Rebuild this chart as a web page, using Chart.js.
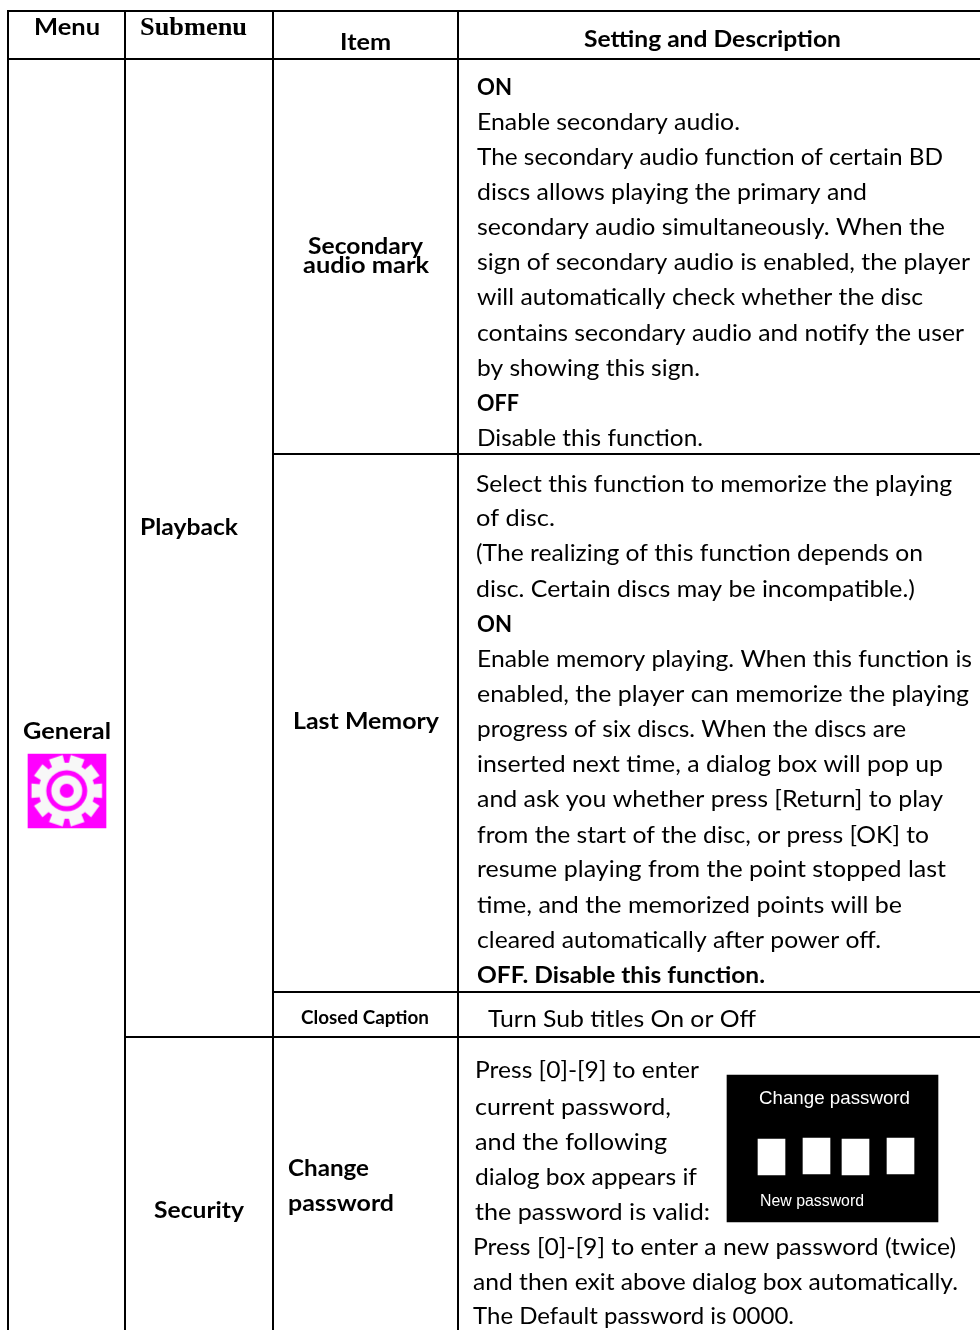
<!DOCTYPE html>
<html>
<head>
<meta charset="utf-8">
<title>Menu table</title>
<script src="https://cdn.jsdelivr.net/npm/chart.js@4/dist/chart.umd.min.js"></script>
<style>
  html, body { margin: 0; padding: 0; background: #fff; }
  canvas { display: block; }
</style>
</head>
<body>
<canvas id="menuTable" width="980" height="1330"></canvas>
<script>
// table rules, in page units: [x1, y1, x2, y2]
const tableRules = [
  [8, 11, 980, 11], [8, 59, 980, 59],
  [273, 454, 980, 454], [273, 992, 980, 992], [125, 1037, 980, 1037],
  [8, 10, 8, 1330], [125, 10, 125, 1330], [273, 10, 273, 1330], [458, 10, 458, 1330]
];

// [left, right, baseline, text]
const headerCells = [
  [34, 100, 35, 'Menu'],
  [340, 391, 50, 'Item'],
  [584, 841, 47, 'Setting and Description']
];
const submenuHeader = [140, 247, 35, 'Submenu'];

const boldCells = [
  [308, 423, 254, 'Secondary'],
  [303, 429, 273, 'audio mark'],
  [293, 439, 729, 'Last Memory'],
  [23, 111, 739, 'General'],
  [140, 238, 535, 'Playback'],
  [154, 244, 1218, 'Security'],
  [288, 369, 1176, 'Change'],
  [288, 394, 1211, 'password'],
  [477, 512, 95, 'ON'],
  [477, 519, 411, 'OFF'],
  [477, 512, 632, 'ON'],
  [477, 765, 983, 'OFF. Disable this function.']
];
const smallBoldCells = [[301, 429, 1024, 'Closed Caption']];

const settingLines = [
  [477, 740, 130, 'Enable secondary audio.'],
  [477, 943, 165, 'The secondary audio function of certain BD'],
  [477, 867, 200, 'discs allows playing the primary and'],
  [477, 945, 235, 'secondary audio simultaneously. When the'],
  [477, 970, 270, 'sign of secondary audio is enabled, the player'],
  [477, 923, 305, 'will automatically check whether the disc'],
  [477, 964, 341, 'contains secondary audio and notify the user'],
  [477, 700, 376, 'by showing this sign.'],
  [477, 703, 446, 'Disable this function.'],
  [476, 952, 492, 'Select this function to memorize the playing'],
  [476, 555, 526, 'of disc.'],
  [476, 923, 561, '(The realizing of this function depends on'],
  [476, 915, 597, 'disc. Certain discs may be incompatible.)'],
  [477, 972, 667, 'Enable memory playing. When this function is'],
  [477, 969, 702, 'enabled, the player can memorize the playing'],
  [477, 906, 737, 'progress of six discs. When the discs are'],
  [477, 943, 772, 'inserted next time, a dialog box will pop up'],
  [477, 943, 807, 'and ask you whether press [Return] to play'],
  [477, 929, 843, 'from the start of the disc, or press [OK] to'],
  [477, 946, 877, 'resume playing from the point stopped last'],
  [477, 902, 913, 'time, and the memorized points will be'],
  [477, 881, 948, 'cleared automatically after power off.'],
  [488, 756, 1027, 'Turn Sub titles On or Off'],
  [475, 699, 1078, 'Press [0]-[9] to enter'],
  [475, 671, 1115, 'current password,'],
  [475, 667, 1150, 'and the following'],
  [475, 697, 1185, 'dialog box appears if'],
  [475, 710, 1220, 'the password is valid:'],
  [473, 956, 1255, 'Press [0]-[9] to enter a new password (twice)'],
  [473, 958, 1290, 'and then exit above dialog box automatically.'],
  [473, 794, 1324, 'The Default password is 0000.']
];

// dialog picture
const dialogBox = { x: 832.5, y: [1075, 1222] };
const dialogSlots = [
  { x: 771.5, y: [1139, 1175] },
  { x: 816.5, y: [1138, 1174] },
  { x: 855.5, y: [1139, 1175] },
  { x: 900.5, y: [1138, 1174] }
];
const dialogLabels = [
  [759, 910, 1104, 'Change password'],
  [760, 864, 1206, 'New password']
];

// gear icon
const iconBox = { x: 67, y: [754, 828] };
const iconCentre = { x: 66.7, y: 790.7 };

// gear drawn once on a small canvas, used as point image
function makeGear() {
  const c = document.createElement('canvas');
  c.width = c.height = 78;
  const g = c.getContext('2d');
  const teeth = 10;
  const step = 2 * Math.PI / teeth;
  g.translate(39, 39);
  g.fillStyle = '#f7f7f7';
  g.beginPath();
  for (let i = 0; i < teeth; i++) {
    const a = (i + 0.5) * step - Math.PI / 2;
    const pts = [[a - step * 0.5, 28], [a - step * 0.38, 28], [a - step * 0.32, 36], [a + step * 0.32, 36], [a + step * 0.38, 28]];
    pts.forEach(p => g.lineTo(Math.cos(p[0]) * p[1], Math.sin(p[0]) * p[1]));
  }
  g.closePath();
  g.fill();
  [[20.5, '#ff00ff'], [15.5, '#f7f7f7'], [7, '#ff00ff']].forEach(r => {
    g.fillStyle = r[1];
    g.beginPath();
    g.arc(0, 0, r[0], 0, 2 * Math.PI);
    g.fill();
  });
  return c;
}

function box(data, color, width) {
  return { type: 'bar', data: data, backgroundColor: color, barThickness: width, grouped: false, order: 5 };
}

// text goes through the scales, squeezed to the width
const tableText = {
  id: 'tableText',
  afterDatasetsDraw(chart) {
    const { ctx, scales } = chart;
    function put(cell, font, color) {
      const left = scales.x.getPixelForValue(cell[0]);
      const right = scales.x.getPixelForValue(cell[1]);
      const base = scales.y.getPixelForValue(cell[2]);
      ctx.save();
      ctx.font = font;
      ctx.fillStyle = color;
      ctx.textBaseline = 'alphabetic';
      ctx.translate(left, base);
      ctx.scale((right - left) / ctx.measureText(cell[3]).width, 1);
      ctx.fillText(cell[3], 0, 0);
      ctx.restore();
    }
    headerCells.forEach(c => put(c, 'bold 23.5px Lato', '#000'));
    put(submenuHeader, 'bold 25px "Liberation Serif"', '#000');
    boldCells.forEach(c => put(c, 'bold 23.5px Lato', '#000'));
    smallBoldCells.forEach(c => put(c, 'bold 18.5px Lato', '#000'));
    settingLines.forEach(c => put(c, '23.5px Lato', '#000'));
    dialogLabels.forEach((c, i) => put(c, (i ? 16 : 18.5) + 'px "Liberation Sans"', '#fff'));
  }
};

const ruleSets = tableRules.map(r => ({
  type: 'line',
  data: [{ x: r[0], y: r[1] }, { x: r[2], y: r[3] }],
  borderColor: '#000',
  borderWidth: 2,
  pointRadius: 0,
  order: 1
}));

const ctx = document.getElementById('menuTable').getContext('2d');
new Chart(ctx, {
  type: 'bar',
  plugins: [tableText],
  data: {
    datasets: [
      ...ruleSets,
      {
        type: 'scatter',
        data: [iconCentre],
        pointStyle: makeGear(),
        order: 2
      },
      box(dialogSlots, '#fff', 27),
      box([dialogBox], '#000', 211),
      box([iconBox], '#ff00ff', 78)
    ]
  },
  options: {
    responsive: false,
    animation: false,
    events: [],
    layout: { padding: 0, autoPadding: false },
    plugins: { legend: { display: false }, tooltip: { enabled: false } },
    scales: {
      x: { type: 'linear', min: 0, max: 980, offset: false, display: false },
      y: { type: 'linear', min: 0, max: 1330, reverse: true, display: false }
    }
  }
});
</script>
</body>
</html>
